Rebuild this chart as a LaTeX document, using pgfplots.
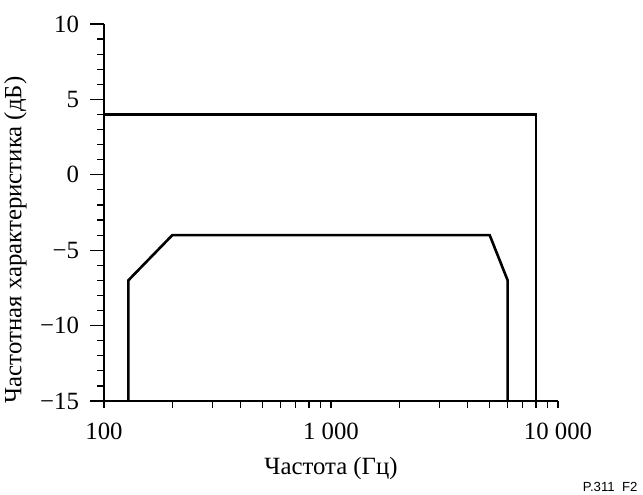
\documentclass[border=0pt]{standalone}
\usepackage{fontspec}
\setmainfont{Liberation Serif}
\newfontfamily\arialfont{Liberation Sans}
\usepackage{pgfplots}
\pgfplotsset{compat=1.18}

\newcommand\lblfont{\fontsize{12.4bp}{14bp}\selectfont}

\begin{document}
\begin{tikzpicture}
\begin{axis}[
  at={(0,0)}, anchor=south west,
  scale only axis,
  width=227bp, height=188.5bp,
  xmode=log,
  xmin=100, xmax=10000,
  ymin=-15, ymax=10,
  enlargelimits=false,
  axis lines=left,
  axis line style={-, line width=0.6bp},
  tick align=outside,
  major tick length=7bp,
  minor tick length=3.5bp,
  tick style={line width=0.6bp, black},
  xtick={100,1000,10000},
  xticklabels={100,{1 000},{10 000}},
  minor xtick={200,300,400,500,600,700,800,900,2000,3000,4000,5000,6000,7000,8000,9000},
  xtick style={/pgfplots/major tick length=3.5bp},
  ytick={-15,-10,-5,0,5,10},
  yticklabels={−15,−10,−5,0,5,10},
  minor ytick={-14,-13,...,9},
  tick label style={font=\lblfont},
  yticklabel style={xshift=-2bp},
  xticklabel style={yshift=-0.5bp},
  label style={font=\lblfont},
  xlabel={Частота (Гц)},
  ylabel={Частотная характеристика (дБ)},
  xlabel style={at={(axis description cs:0.5,-0.178)}, anchor=center},
  ylabel style={at={(axis description cs:-0.195,0.427)}, anchor=center},
  clip=false,
]
% upper limit
\addplot[black, line width=1.3bp] coordinates {
  (100,4) (8000,4) (8000,-15)
};
% lower limit
\addplot[black, line width=1.3bp] coordinates {
  (128,-15) (128,-7) (200,-4) (5000,-4) (6000,-7) (6000,-15)
};
\node[font=\arialfont\fontsize{6.6bp}{8bp}\selectfont, anchor=center]
  at (axis description cs:1.115,-0.228) {P.311\ \ F2};
\end{axis}
\pgfresetboundingbox
\useasboundingbox (-52bp,-47bp) rectangle (269.5bp,200.5bp);
\end{tikzpicture}
\end{document}
